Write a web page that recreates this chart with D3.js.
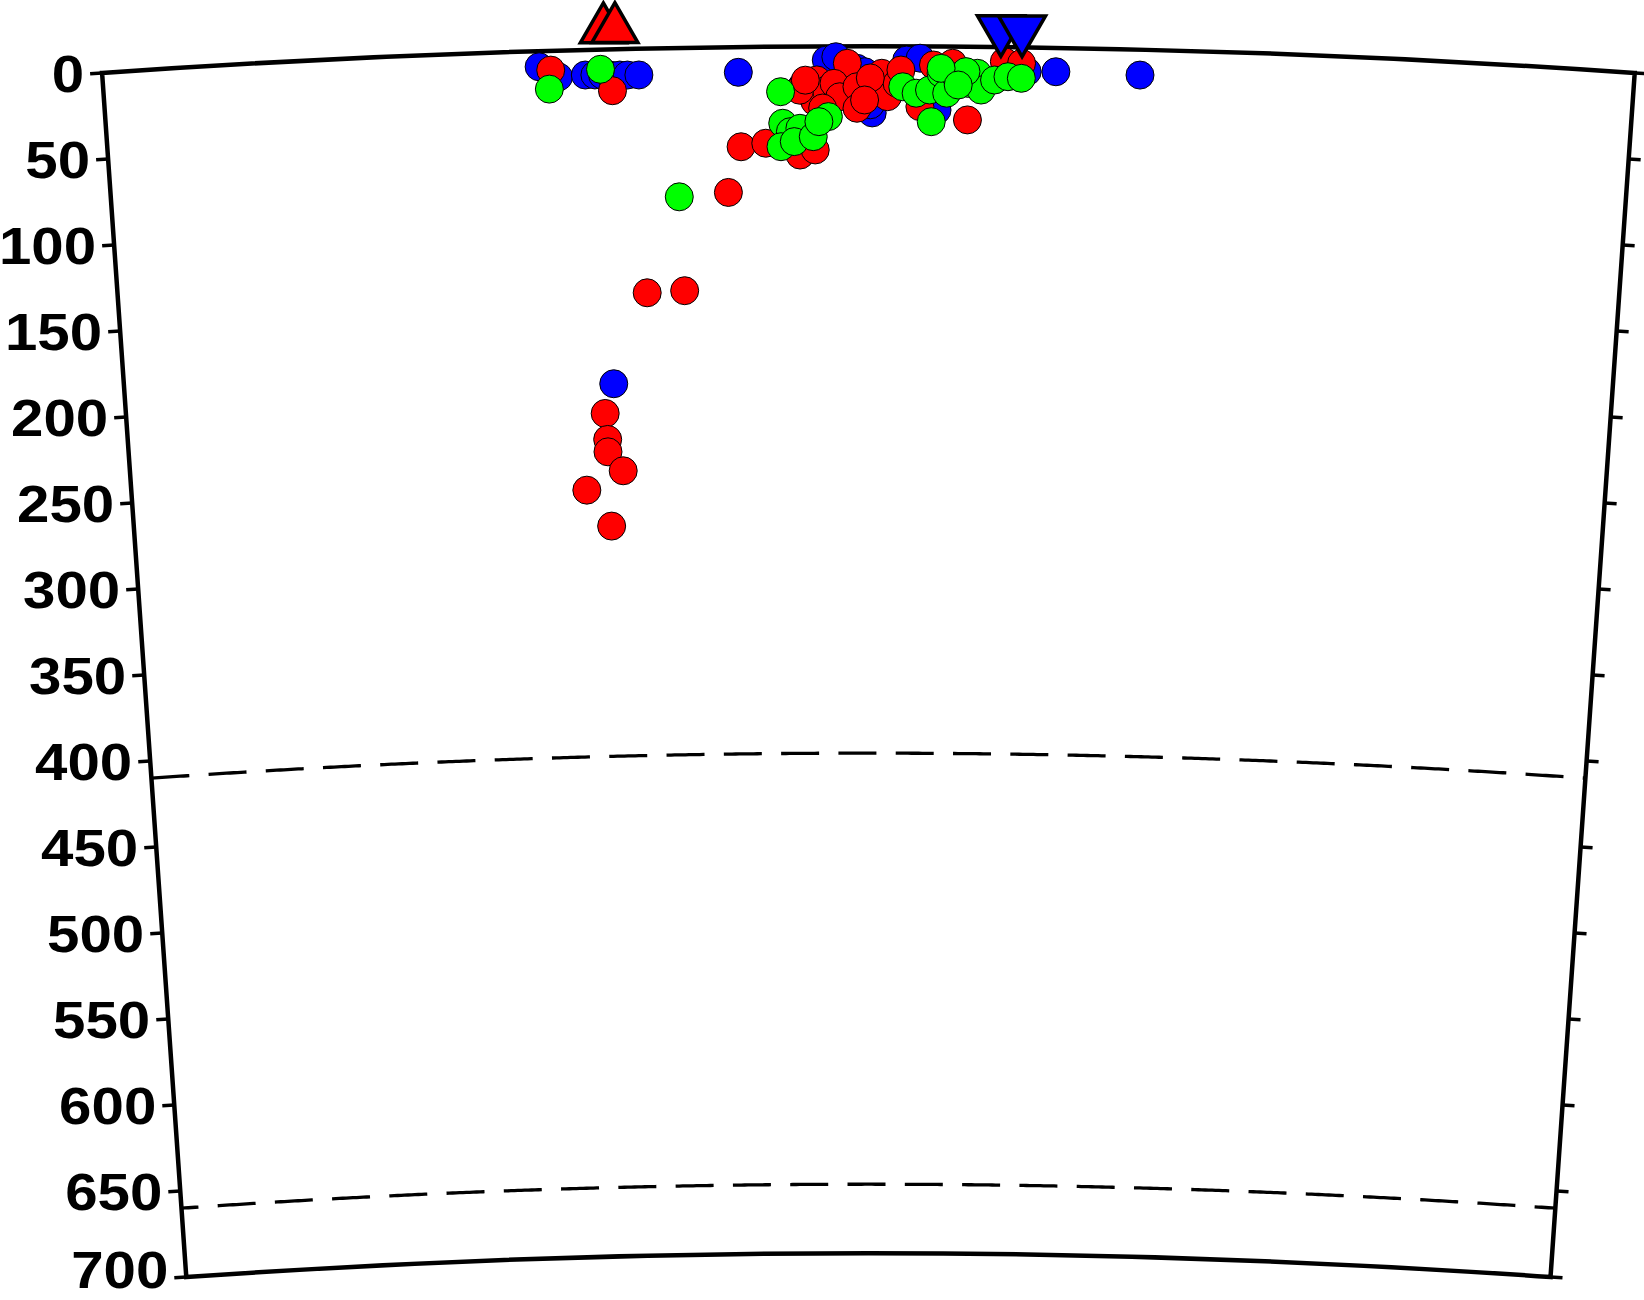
<!DOCTYPE html>
<html><head><meta charset="utf-8">
<script src="https://cdn.jsdelivr.net/npm/d3@7/dist/d3.min.js"></script>
<style>html,body{margin:0;padding:0;background:#fff;}svg{display:block;}</style>
</head><body>
<svg id="chart" width="1644" height="1300"></svg>
<script>
// ---------- data ----------
// depth axis
const depthTicks = [0,50,100,150,200,250,300,350,400,450,500,550,600,650,700];
const depthTickLabels = ["0","50","100","150","200","250","300","350","400","450","500","550","600","650","700"];
// mantle discontinuities (km)
const discontinuityDepths = [410, 660];
// profile extent (degrees of arc) and depth extent (km)
const distExtent = [0, 8];
const depthExtent = [0, 700];
const earthRadiusKm = 6371;

// hypocentres: distance along profile (deg), depth (km)
const blueDist  = [2.28,2.38,2.52,2.57,2.61,2.65,2.70,2.74,2.80,3.32,2.63,3.78,3.83,3.94,3.98,4.20,4.27,4.02,4.36,3.65,3.68,4.01,4.09,4.83,4.98,5.42];
const blueDepth = [9.1,15.3,14.6,14.7,14.9,15.0,15.1,15.2,15.3,14.7,194,8.0,6.1,12.8,14.8,8.0,6.9,38.7,36.9,23.4,25,34,17.6,14.1,13.9,14.8];

const redDist  = [2.34,2.66,3.26,2.82,3.02,2.58,2.59,2.59,2.67,2.47,2.60,3.33,3.46,3.64,3.72,3.89,3.73,3.69,3.72,3.78,3.82,3.85,3.94,3.94,4.07,4.10,4.15,4.34,4.44,4.71,4.80,4.52,4.27,3.64,3.67,3.76,4.01,3.98,4.17];
const redDepth = [11.2,24.1,84.3,141.7,140.9,211.1,226.2,233.4,244.6,255.3,276.5,57.9,56.0,63.0,60.1,9.9,19.5,27.2,32.1,25.4,21.5,29.3,23.5,36.0,15.7,29.3,21.5,10.8,9.7,8.5,9.3,42.5,35.0,25.4,19.6,35.8,18.4,31.2,13.8];

const greenDist  = [2.33,2.60,3.00,3.54,3.55,3.59,3.64,3.54,3.61,3.71,3.79,3.74,4.18,4.25,4.32,4.38,4.41,4.46,4.52,4.57,4.59,4.66,4.73,4.80,4.33,4.51,4.38,4.47];
const greenDepth = [22.2,11.5,86.4,26.2,44.5,49.4,47.5,58.1,55.2,52.4,40.8,43.7,23.5,27.2,25.3,15.6,27.1,17.5,21.3,15.4,25.1,19.2,17.2,18.0,43.7,14.5,12.7,22.3];

// surface markers (deg, km; negative = above surface)
const volcanoDist  = [2.62, 2.68];
const volcanoDepth = [-11.5, -11.5];
const stationDist  = [4.69, 4.80];
const stationDepth = [-10.3, -10.3];

// ---------- geometry ----------
const pxPerKm = 1.7243;
const cx = 868.4, cy = 11031.7;
const halfAngle = 4 * Math.PI / 180;

const angle  = d3.scaleLinear().domain(distExtent).range([-halfAngle, halfAngle]);
const radius = d3.scaleLinear().domain(depthExtent).range([earthRadiusKm*pxPerKm, (earthRadiusKm-700)*pxPerKm]);

function proj(dist, depth){
  const a = angle(dist), r = radius(depth);
  return [cx + r*Math.sin(a), cy - r*Math.cos(a)];
}

const svg = d3.select("#chart");
const g = svg.append("g").attr("transform", `translate(${cx},${cy})`);

// frame (annular sector)
const frameArc = d3.arc()
  .innerRadius(radius(depthExtent[1]))
  .outerRadius(radius(depthExtent[0]))
  .startAngle(angle(distExtent[0]))
  .endAngle(angle(distExtent[1]));
g.append("path").attr("d", frameArc()).attr("fill","none")
  .attr("stroke","#000").attr("stroke-width",4.5).attr("stroke-linejoin","miter");

// discontinuity lines
const samples = d3.range(distExtent[0], distExtent[1] + 1e-9, 0.02);
const radial = d3.lineRadial().curve(d3.curveLinear);
discontinuityDepths.forEach((dep, i) => {
  g.append("path")
    .attr("d", radial(samples.map(s => [angle(s), radius(dep)])))
    .attr("fill","none").attr("stroke","#000").attr("stroke-width",3.3)
    .attr("stroke-dasharray","38,19.3")
    .attr("stroke-dashoffset", i === 1 ? 21 : 0);
});

// ticks and labels
const tickLen = 12;
const a0 = angle(distExtent[0]), a1 = angle(distExtent[1]);
const fontSize = 52;
depthTicks.forEach((d, i) => {
  const [xl, yl] = proj(distExtent[0], d);
  const [xr, yr] = proj(distExtent[1], d);
  svg.append("line").attr("x1",xl).attr("y1",yl)
    .attr("x2", xl - tickLen*Math.cos(a0)).attr("y2", yl - tickLen*Math.sin(a0))
    .attr("stroke","#000").attr("stroke-width",3.5);
  svg.append("line").attr("x1",xr).attr("y1",yr)
    .attr("x2", xr + tickLen*Math.cos(a1)).attr("y2", yr + tickLen*Math.sin(a1))
    .attr("stroke","#000").attr("stroke-width",3.5);
  const ty = Math.min(yl + 0.36*fontSize, 1288);
  svg.append("text")
    .attr("transform", `translate(${xl - tickLen - 6},${ty}) scale(1.12,1)`)
    .attr("text-anchor","end")
    .attr("font-family","'Liberation Sans', Arial, Helvetica, sans-serif")
    .attr("font-weight","bold").attr("font-size", fontSize)
    .text(depthTickLabels[i]);
});

// hypocentres
function drawSeries(dists, depths, color){
  svg.append("g").selectAll("circle").data(dists.map((d,i)=>[d, depths[i]]))
    .join("circle")
    .attr("cx", d => proj(d[0], d[1])[0])
    .attr("cy", d => proj(d[0], d[1])[1])
    .attr("r", 14)
    .attr("fill", color).attr("stroke","#000").attr("stroke-width",1);
}
drawSeries(blueDist, blueDepth, "#0000ff");
drawSeries(redDist, redDepth, "#ff0000");
drawSeries(greenDist, greenDepth, "#00ff00");

// surface markers
const triUp = d3.symbol().type(d3.symbolTriangle).size(Math.pow(46,2)*Math.sqrt(3)/4);
const triDown = d3.symbol().type(d3.symbolTriangle).size(Math.pow(47,2)*Math.sqrt(3)/4);
svg.append("g").selectAll("path").data(volcanoDist.map((d,i)=>[d, volcanoDepth[i]]))
  .join("path").attr("d", triUp())
  .attr("transform", d => { const p = proj(d[0], d[1]); return `translate(${p[0]},${p[1]})`; })
  .attr("fill","#ff0000").attr("stroke","#000").attr("stroke-width",3.5).attr("stroke-linejoin","miter");
svg.append("g").selectAll("path").data(stationDist.map((d,i)=>[d, stationDepth[i]]))
  .join("path").attr("d", triDown())
  .attr("transform", d => { const p = proj(d[0], d[1]); return `translate(${p[0]},${p[1]}) rotate(180)`; })
  .attr("fill","#0000ff").attr("stroke","#000").attr("stroke-width",3.5).attr("stroke-linejoin","miter");
</script>
</body></html>
